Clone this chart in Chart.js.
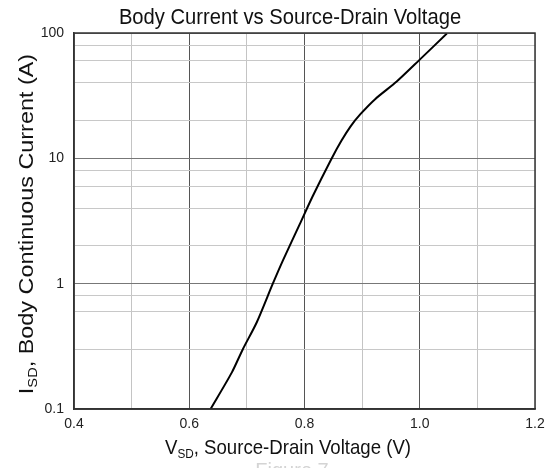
<!DOCTYPE html>
<html>
<head>
<meta charset="utf-8">
<script src="https://cdn.jsdelivr.net/npm/chart.js@4/dist/chart.umd.min.js"></script>
<style>
  html, body { margin:0; padding:0; background:#fff; }
  canvas { display:block; }
</style>
</head>
<body>
<canvas id="chart" width="553" height="468"></canvas>
<script>
/* ---------- data ---------- */
const vSD = [0.637, 0.674, 0.693, 0.717, 0.745, 0.763, 0.792, 0.814, 0.846, 0.864, 0.880, 0.897, 0.923, 0.960, 1.000, 1.047];
const iSD = [0.1,   0.196, 0.3,   0.49,  1.0,   1.55,  3.0,   4.96,  9.75,  13.8,  18.0,  22.5,  29.8,  41.0,  61.3,  99];

const xTicks = [0.4, 0.6, 0.8, 1.0, 1.2];          // labelled x values
const yTicks = [0.1, 1, 10, 100];                  // labelled decades
const titleText = 'Body Current vs Source-Drain Voltage';

const FONT = '"Liberation Sans", Arial, sans-serif';
const near = (a, list) => list.some(v => Math.abs(v - a) < 1e-6);

/* ---------- custom painting: title, axis titles with subscripts, frame ---------- */
function drawParts(ctx, parts, cx, cy, stretch) {
  // parts: [{t, size, dy}] – centred at cx, baseline cy; stretch = [sx, sy]
  const [sx, sy] = stretch || [1, 1];
  ctx.save();
  ctx.translate(cx, cy);
  ctx.scale(sx, sy);
  let w = 0;
  parts.forEach(p => { ctx.font = p.size + 'px ' + FONT; p.w = ctx.measureText(p.t).width; w += p.w; });
  let x = -w / 2;
  ctx.textAlign = 'left';
  ctx.textBaseline = 'alphabetic';
  parts.forEach(p => {
    ctx.font = p.size + 'px ' + FONT;
    ctx.fillText(p.t, x, p.dy || 0);
    x += p.w;
  });
  ctx.restore();
}

const decor = {
  id: 'decor',
  afterDraw(chart) {
    const { ctx, chartArea: a } = chart;
    ctx.save();
    ctx.strokeStyle = '#333';
    ctx.lineWidth = 1.5;
    ctx.strokeRect(a.left, a.top, a.right - a.left, a.bottom - a.top);

    ctx.fillStyle = '#111';
    drawParts(ctx, [{ t: titleText, size: 20.2 }], 290, 24, [1, 1.07]);

    drawParts(ctx, [
      { t: 'V', size: 19 },
      { t: 'SD', size: 12, dy: 4 },
      { t: ', Source-Drain Voltage (V)', size: 19 }
    ], 288, 454, [0.98, 1.1]);

    ctx.translate(33, 224);
    ctx.rotate(-Math.PI / 2);
    drawParts(ctx, [
      { t: 'I', size: 20 },
      { t: 'SD', size: 12.5, dy: 4 },
      { t: ', Body Continuous Current (A)', size: 20 }
    ], 0, 0, [1.17, 1]);
    ctx.restore();

    // clipped caption under the chart
    ctx.save();
    ctx.fillStyle = '#d4d4d4';
    drawParts(ctx, [{ t: 'Figure 7', size: 20 }], 292, 477);
    ctx.restore();
  }
};

new Chart(document.getElementById('chart'), {
  type: 'scatter',
  data: {
    datasets: [{
      data: vSD.map((v, i) => ({ x: v, y: iSD[i] })),
      showLine: true,
      borderColor: '#000',
      borderWidth: 2,
      pointRadius: 0,
      tension: 0.25
    }]
  },
  options: {
    responsive: false,
    animation: false,
    layout: { padding: { left: 0, right: 18, top: 33, bottom: 0 } },
    plugins: { legend: { display: false }, title: { display: false }, tooltip: { enabled: false } },
    scales: {
      x: {
        type: 'linear', min: 0.4, max: 1.2,
        afterFit: s => { s.height = 59; },
        border: { color: '#333', width: 1.5 },
        grid: {
          drawTicks: false,
          color: c => near(c.tick.value, [0.6, 0.8, 1.0]) ? '#555' : '#c4c4c4',
          lineWidth: 1
        },
        ticks: {
          stepSize: 0.1, padding: 7, color: '#222',
          font: { family: FONT, size: 14 },
          callback: v => near(v, xTicks) ? v.toFixed(1) : ''
        }
      },
      y: {
        type: 'logarithmic', min: 0.1, max: 100,
        afterFit: s => { s.width = 74; },
        border: { color: '#333', width: 1.5 },
        grid: {
          drawTicks: false,
          color: c => near(c.tick.value, yTicks) ? '#777' : '#c8c8c8',
          lineWidth: 1
        },
        ticks: {
          padding: 10, color: '#222',
          font: { family: FONT, size: 14 },
          callback: v => near(v, yTicks) ? String(v) : ''
        }
      }
    }
  },
  plugins: [decor]
});
</script>
</body>
</html>
